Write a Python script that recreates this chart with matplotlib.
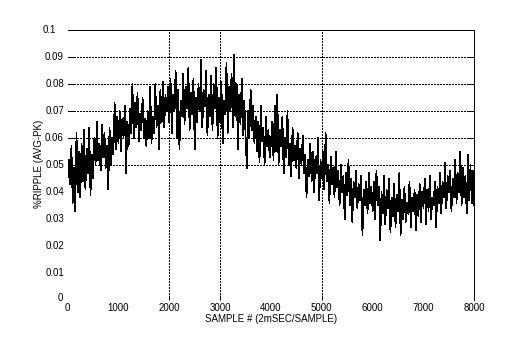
import numpy as np
import matplotlib
matplotlib.use("Agg")
import matplotlib.pyplot as plt
from matplotlib.transforms import blended_transform_factory, offset_copy

plt.rcParams['font.family'] = ['Liberation Sans', 'DejaVu Sans']

# ---------------- data ----------------
sample_step = 25
samples = np.arange(0, 8001, sample_step)

ripple = [
    0.045, 0.052, 0.043, 0.057, 0.036, 0.049, 0.033, 0.062, 0.040, 0.055,
    0.038, 0.058, 0.044, 0.063, 0.041, 0.056, 0.047, 0.064, 0.039, 0.054,
    0.045, 0.060, 0.050, 0.066, 0.052, 0.058, 0.048, 0.065, 0.053, 0.062,
    0.049, 0.057, 0.041, 0.064, 0.050, 0.060, 0.054, 0.073, 0.056, 0.068,
    # 1000
    0.058, 0.070, 0.055, 0.067, 0.060, 0.072, 0.047, 0.066, 0.057, 0.071,
    0.062, 0.080, 0.060, 0.073, 0.064, 0.077, 0.059, 0.069, 0.063, 0.075,
    0.060, 0.067, 0.057, 0.070, 0.060, 0.079, 0.058, 0.068, 0.062, 0.080,
    0.064, 0.072, 0.056, 0.078, 0.066, 0.081, 0.064, 0.076, 0.070, 0.079,
    # 2000
    0.066, 0.082, 0.062, 0.076, 0.070, 0.085, 0.060, 0.078, 0.056, 0.074,
    0.068, 0.084, 0.065, 0.079, 0.071, 0.086, 0.063, 0.077, 0.069, 0.082,
    0.056, 0.075, 0.066, 0.080, 0.070, 0.089, 0.064, 0.078, 0.072, 0.085,
    0.061, 0.076, 0.068, 0.083, 0.063, 0.080, 0.071, 0.086, 0.060, 0.075,
    # 3000
    0.066, 0.081, 0.058, 0.074, 0.069, 0.088, 0.062, 0.079, 0.070, 0.084,
    0.064, 0.091, 0.068, 0.080, 0.056, 0.076, 0.065, 0.082, 0.061, 0.074,
    0.062, 0.049, 0.070, 0.060, 0.078, 0.063, 0.072, 0.058, 0.068, 0.055,
    0.066, 0.051, 0.072, 0.059, 0.064, 0.050, 0.068, 0.057, 0.063, 0.053,
    # 4000
    0.058, 0.066, 0.052, 0.072, 0.055, 0.076, 0.050, 0.063, 0.057, 0.068,
    0.047, 0.060, 0.053, 0.070, 0.050, 0.058, 0.046, 0.064, 0.052, 0.057,
    0.049, 0.062, 0.045, 0.056, 0.050, 0.061, 0.047, 0.054, 0.038, 0.052,
    0.046, 0.058, 0.044, 0.055, 0.040, 0.053, 0.047, 0.060, 0.037, 0.052,
    # 5000
    0.045, 0.055, 0.041, 0.062, 0.044, 0.050, 0.036, 0.053, 0.043, 0.049,
    0.038, 0.055, 0.042, 0.048, 0.035, 0.050, 0.040, 0.046, 0.030, 0.047,
    0.039, 0.052, 0.035, 0.045, 0.029, 0.044, 0.038, 0.048, 0.034, 0.043,
    0.037, 0.046, 0.024, 0.041, 0.035, 0.044, 0.032, 0.047, 0.036, 0.042,
    # 6000
    0.033, 0.044, 0.030, 0.048, 0.035, 0.042, 0.022, 0.040, 0.032, 0.046,
    0.028, 0.041, 0.034, 0.045, 0.025, 0.038, 0.031, 0.043, 0.027, 0.039,
    0.033, 0.047, 0.024, 0.037, 0.030, 0.042, 0.029, 0.036, 0.032, 0.044,
    0.027, 0.038, 0.033, 0.041, 0.026, 0.039, 0.031, 0.043, 0.029, 0.040,
    # 7000
    0.034, 0.045, 0.028, 0.041, 0.033, 0.046, 0.030, 0.038, 0.035, 0.044,
    0.027, 0.042, 0.036, 0.047, 0.032, 0.044, 0.038, 0.051, 0.034, 0.046,
    0.040, 0.048, 0.033, 0.045, 0.038, 0.052, 0.036, 0.047, 0.040, 0.055,
    0.035, 0.049, 0.038, 0.046, 0.032, 0.054, 0.037, 0.050, 0.036, 0.048,
    0.035,
]

y_ticks = [0, 0.01, 0.02, 0.03, 0.04, 0.05, 0.06, 0.07, 0.08, 0.09, 0.1]
y_tick_labels = ['0', '0.01', '0.02', '0.03', '0.04', '0.05', '0.06',
                 '0.07', '0.08', '0.09', '0.1']
x_ticks = [0, 1000, 2000, 3000, 4000, 5000, 6000, 7000, 8000]
x_tick_labels = ['0', '1000', '2000', '3000', '4000', '5000', '6000',
                 '7000', '8000']
h_grid = [0.05, 0.06, 0.07, 0.08, 0.09]
v_grid = [2000, 3000, 5000]

x_title = 'SAMPLE # (2mSEC/SAMPLE)'
y_title = '%RIPPLE (AVG-PK)'

# ---------------- figure ----------------
W, H = 524, 343
fig = plt.figure(figsize=(W / 100, H / 100), dpi=100)
left_px, right_px, top_px, bottom_px = 67.6, 474.3, 30.3, 300.0
ax = fig.add_axes([left_px / W, 1 - bottom_px / H,
                   (right_px - left_px) / W, (bottom_px - top_px) / H])

ax.plot(samples, ripple, color='black', lw=0.5, zorder=3, antialiased=False)
ax.set_xlim(0, 8000)
ax.set_ylim(0, 0.1)

for s in ['left', 'bottom']:
    ax.spines[s].set_visible(False)
for s in ['top', 'right']:
    ax.spines[s].set_color('black')
    ax.spines[s].set_linewidth(0.72)
    ax.spines[s].set_antialiased(False)

dots = (0, (2, 2))
ax.hlines(h_grid, 0, 8000, colors='black', linestyles=dots, lw=0.72,
          zorder=1, antialiased=False)
ax.vlines(v_grid, 0, 0.1, colors='black', linestyles=dots, lw=0.72,
          zorder=1, antialiased=False)

ax.set_yticks(h_grid)
ax.set_xticks(v_grid)
ax.tick_params(axis='y', left=True, right=True, labelleft=False,
               labelright=False, direction='in', length=4, width=0.72)
ax.tick_params(axis='x', bottom=True, top=False, labelbottom=False,
               direction='in', length=3.6, width=0.72)

fs = 7
trans_y = blended_transform_factory(ax.transAxes, ax.transData)
for v, lab in zip(y_ticks, y_tick_labels):
    dx, dy = -3.6, 0
    if lab == '0.1':
        dx = -11.6
    elif lab == '0':
        dx, dy = -4.6, 2
    ax.text(0, v, lab, fontsize=fs, ha='right', va='center',
            transform=offset_copy(trans_y, fig=fig, x=dx, y=dy, units='dots'))

trans_x = blended_transform_factory(ax.transData, ax.transAxes)
for v, lab in zip(x_ticks, x_tick_labels):
    ax.text(v, 0, lab, fontsize=fs, ha='center', va='top',
            transform=offset_copy(trans_x, fig=fig, x=0, y=-3, units='dots'))

ax.text(0.5, -(319 - bottom_px) / (bottom_px - top_px), x_title,
        transform=ax.transAxes, ha='center', va='center', fontsize=fs)
fig.text(39 / W, 1 - 164 / H, y_title, rotation=90, ha='center',
         va='center', fontsize=fs)

fig.savefig('out.png', dpi=100)
